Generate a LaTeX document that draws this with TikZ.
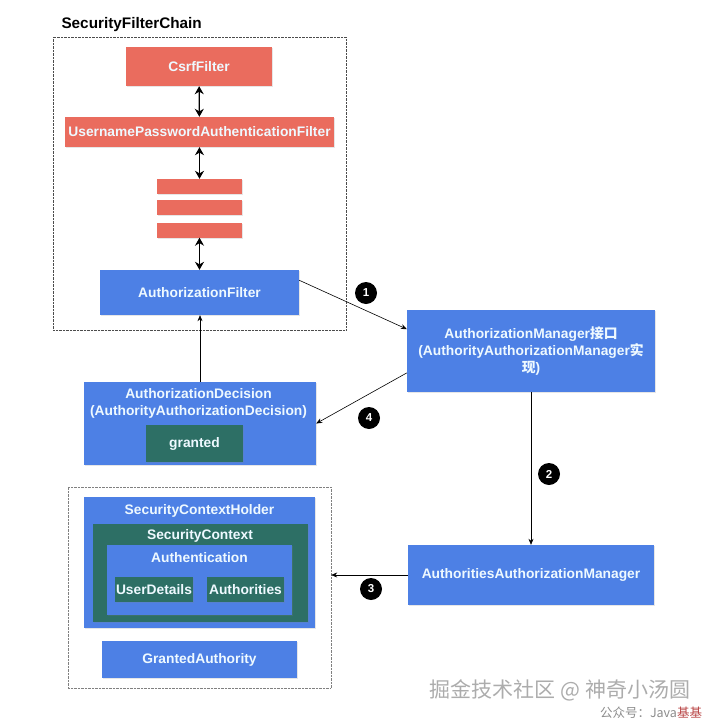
\documentclass[tikz,border=0pt]{standalone}
\usepackage{fontspec}
\setmainfont{Liberation Sans}
\newfontfamily\cjk{Noto Sans CJK SC}
\usetikzlibrary{arrows.meta,shadows}
\definecolor{filterred}{RGB}{234,108,94}
\definecolor{mgrblue}{RGB}{77,128,229}
\definecolor{ctxteal}{RGB}{45,111,101}
\definecolor{labelwhite}{RGB}{238,249,255}
\begin{document}
\begin{tikzpicture}[x=1pt, y=-1pt,
    every node/.style={font=\fontsize{13.8}{17}\selectfont\bfseries, text=labelwhite},
    box/.style={inner sep=0pt, drop shadow={shadow xshift=1.2pt, shadow yshift=-1.2pt, opacity=0.2}},
    filterbox/.style={box, fill=filterred},
    bluebox/.style={box, fill=mgrblue},
    tealbox/.style={box, fill=ctxteal},
    group/.style={draw=black!70, densely dotted, inner sep=0pt},
    stepnum/.style={circle, fill=black, inner sep=0pt, minimum size=22pt, text=white, font=\fontsize{11.5}{12}\selectfont\bfseries},
    link/.style={-{Stealth[length=6pt,width=5pt]}, line width=0.6pt},
    chainlink/.style={{Stealth[length=8pt,width=9pt]}-{Stealth[length=8pt,width=9pt]}, line width=1.3pt}]
    \useasboundingbox (0,0) rectangle (720,728); % page size

    % filter chain
    \node[text=black, font=\fontsize{15.3}{17}\selectfont\bfseries, anchor=west] (chaintitle) at (58,25) {SecurityFilterChain};
    \node[group, minimum width=293, minimum height=293] (chain) at (199.5,183.5) {};
    \node[filterbox, minimum width=146, minimum height=39] (csrf) at (199,66.5) {CsrfFilter};
    \node[filterbox, minimum width=269, minimum height=30] (upaf) at (199.5,132) {UsernamePasswordAuthenticationFilter};
    \node[filterbox, minimum width=85, minimum height=15] (barA) at (199.5,186.5) {};
    \node[filterbox, minimum width=85, minimum height=15] (barB) at (199.5,207.5) {};
    \node[filterbox, minimum width=85, minimum height=15] (barC) at (199.5,230) {};
    \node[bluebox, minimum width=199, minimum height=45] (authzfilter) at (199.5,292.5) {AuthorizationFilter};
    \draw[chainlink] (csrf) -- (upaf);
    \draw[chainlink] (upaf) -- (barA);
    \draw[chainlink] (barC) -- (authzfilter);

    % managers
    \node[bluebox, minimum width=248, minimum height=82, align=center] (manager) at (531,351)
        {AuthorizationManager{\cjk 接口}\\(AuthorityAuthorizationManager{\cjk 实}\\{\cjk 现})};
    \node[bluebox, minimum width=246, minimum height=60] (aam) at (531,575) {AuthoritiesAuthorizationManager};

    % decision
    \node[bluebox, minimum width=232, minimum height=83] (decision) at (200,423.5) {};
    \node[align=center] (decisiontitle) at (198.5,403) {AuthorizationDecision\\(AuthorityAuthorizationDecision)};
    \node[tealbox, minimum width=97, minimum height=37] (granted) at (194.5,443.5) {granted};

    % security context
    \node[group, draw=black!50, minimum width=263, minimum height=201] (ctxgroup) at (199.5,587.5) {};
    \node[bluebox, minimum width=231, minimum height=131] (holder) at (199.5,562.5) {};
    \node (holdertitle) at (199.5,511) {SecurityContextHolder};
    \node[tealbox, minimum width=215, minimum height=98] (context) at (200.5,572.5) {};
    \node (contexttitle) at (200,536) {SecurityContext};
    \node[bluebox, minimum width=185, minimum height=70] (authn) at (199.5,580) {};
    \node (authntitle) at (199.5,558) {Authentication};
    \node[tealbox, minimum width=78, minimum height=25] (userdetails) at (154,589.5) {UserDetails};
    \node[tealbox, minimum width=77, minimum height=25] (authorities) at (245.5,589.5) {Authorities};
    \node[bluebox, minimum width=195, minimum height=37] (grantedauth) at (199.5,659.5) {GrantedAuthority};

    % flow
    \draw[link] (authzfilter.7) -- (manager.170);
    \draw[link] (manager.south) -- (aam.north);
    \draw[link] (aam.west) -- (aam.west -| ctxgroup.east);
    \draw[link] (manager.190) -- (decision.east);
    \draw[link] (decision.north) -- (decision.north |- authzfilter.south);
    \node[stepnum] (one) at (366,293) {1};
    \node[stepnum] (two) at (549,474) {2};
    \node[stepnum] (three) at (371,589) {3};
    \node[stepnum] (four) at (369,418) {4};

    % watermark
    \node[text=gray!65, font=\cjk\fontsize{21}{21}\selectfont] (mark) at (560,690) {掘金技术社区 @ 神奇小汤圆};
    \node[text=gray!90, font=\cjk\fontsize{12.5}{13}\selectfont] (account) at (651,713) {公众号：Java{\color{red!45!gray}基基}};
\end{tikzpicture}
\end{document}
